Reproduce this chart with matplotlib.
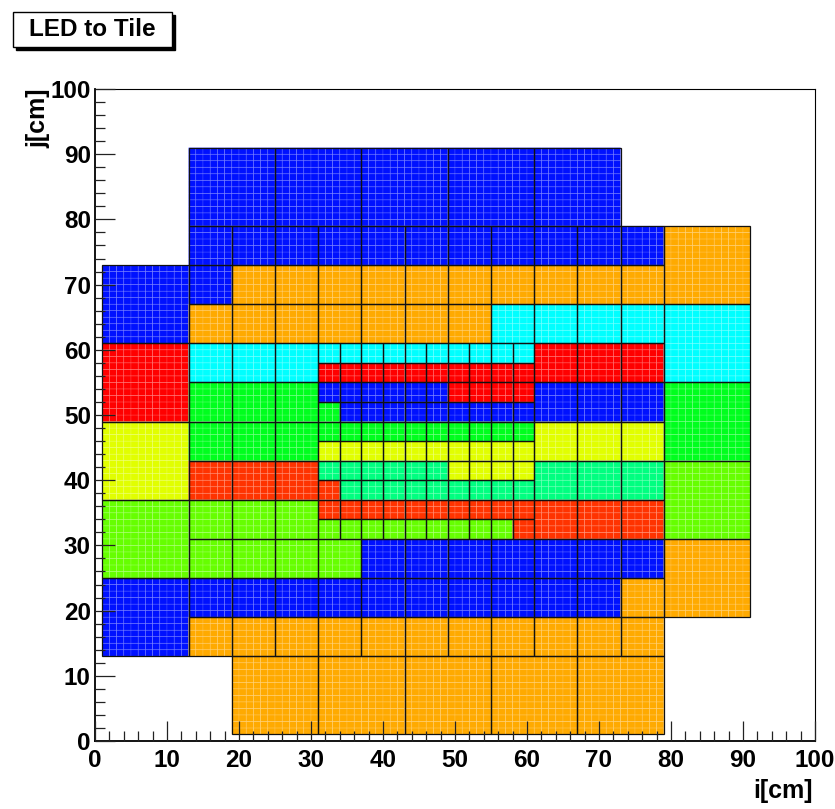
import numpy as np
import matplotlib
matplotlib.use('Agg')
import matplotlib.pyplot as plt
from matplotlib.colors import ListedColormap
from matplotlib.patches import Rectangle
from matplotlib.ticker import MultipleLocator

plt.rcParams['font.family'] = ['Liberation Sans', 'DejaVu Sans']
plt.rcParams['font.weight'] = 'bold'

# LED colour groups (ROOT palette look)
led_names = ['B', 'O', 'C', 'R', 'OR', 'G', 'Y', 'LG', 'SG']
led_colors = ['#0011ff', '#ffaa00', '#00ffff', '#ff0000', '#ff3300',
              '#00ff1e', '#e1ff00', '#66ff00', '#00ff80']

# tile blocks: i range, j range, tile size, LED group
blk_i0 = [13, 79, 13, 1, 13, 19, 13, 55, 79, 1, 13, 31, 31, 61, 79, 13, 31, 49, 31, 34, 61,
          1, 13, 31, 31, 61, 79, 13, 31, 49, 31, 34, 61, 1, 13, 31, 31, 58, 61, 13, 37, 79,
          1, 13, 73, 13, 19]
blk_i1 = [73, 91, 79, 13, 19, 79, 55, 79, 91, 13, 31, 61, 61, 79, 91, 31, 49, 61, 34, 61, 79,
          13, 31, 61, 61, 79, 91, 31, 49, 61, 34, 61, 79, 13, 31, 61, 58, 61, 79, 37, 79, 91,
          13, 73, 79, 79, 79]
blk_j0 = [79, 67, 73, 61, 67, 67, 61, 61, 55, 49, 55, 58, 55, 55, 43, 49, 52, 52, 49, 49, 49,
          37, 43, 46, 43, 43, 31, 37, 40, 40, 37, 37, 37, 25, 31, 34, 31, 31, 31, 25, 25, 19,
          13, 19, 19, 13, 1]
blk_j1 = [91, 79, 79, 73, 73, 73, 67, 67, 67, 61, 61, 61, 58, 61, 55, 55, 55, 55, 52, 52, 55,
          49, 49, 49, 46, 49, 43, 43, 43, 43, 40, 40, 43, 37, 37, 37, 34, 34, 37, 31, 31, 31,
          25, 25, 25, 19, 13]
blk_tw = [12, 12, 6, 12, 6, 6, 6, 6, 12, 12, 6, 3, 3, 6, 12, 6, 3, 3, 3, 3, 6,
          12, 6, 3, 3, 6, 12, 6, 3, 3, 3, 3, 6, 12, 6, 3, 3, 3, 6, 6, 6, 12,
          12, 6, 6, 6, 12]
blk_led = ['B', 'O', 'B', 'B', 'B', 'O', 'O', 'C', 'C', 'R', 'C', 'C', 'R', 'R', 'G', 'G', 'B', 'R', 'G', 'B', 'B',
           'Y', 'G', 'G', 'Y', 'Y', 'LG', 'OR', 'SG', 'Y', 'OR', 'SG', 'SG', 'LG', 'LG', 'OR', 'LG', 'OR', 'OR', 'LG', 'B', 'O',
           'B', 'B', 'O', 'O', 'O']

# fill 1 cm bins with the LED group index
z = np.full((100, 100), np.nan)
tiles = []
for i0, i1, j0, j1, tw, led in zip(blk_i0, blk_i1, blk_j0, blk_j1, blk_tw, blk_led):
    k = led_names.index(led)
    z[j0:j1, i0:i1] = k
    for ti in range(i0, i1, tw):
        for tj in range(j0, j1, tw):
            tiles.append((ti, tj, tw))

fig = plt.figure(figsize=(8.35, 8.09), dpi=100)
ax = fig.add_axes([95/835, (809-741)/809, 720/835, 652/809])

edges = np.arange(101)
ax.pcolor(edges, edges, np.ma.masked_invalid(z), cmap=ListedColormap(led_colors),
          vmin=-0.5, vmax=len(led_colors)-0.5,
          edgecolors=(1, 1, 1, 0.17), linewidth=0.5, zorder=1)

for ti, tj, tw in tiles:
    ax.add_patch(Rectangle((ti, tj), tw, tw, fill=False, edgecolor='#111111',
                           linewidth=0.9, zorder=2))

ax.set_xlim(0, 100)
ax.set_ylim(0, 100)
ax.xaxis.set_major_locator(MultipleLocator(10))
ax.xaxis.set_minor_locator(MultipleLocator(2))
ax.yaxis.set_major_locator(MultipleLocator(10))
ax.yaxis.set_minor_locator(MultipleLocator(2))
ax.set_axisbelow(False)
ax.tick_params(which='both', direction='in', top=False, right=False,
               width=0.9, color='#222222')
ax.tick_params(which='major', length=14.5, labelsize=17.5)
ax.tick_params(which='minor', length=7.2)
ax.tick_params(axis='x', pad=6)
ax.tick_params(axis='y', pad=3)
for lab in ax.get_xticklabels() + ax.get_yticklabels():
    lab.set_fontweight('bold')
for s in ['left', 'bottom']:
    ax.spines[s].set_linewidth(1.3)
for s in ['top', 'right']:
    ax.spines[s].set_linewidth(0.8)

fig.text(813/835, (809-779)/809, 'i[cm]', ha='right', va='top', fontsize=18, fontweight='bold')
fig.text(38/835, (809-88)/809, 'j[cm]', ha='center', va='top', rotation=90,
         fontsize=18, fontweight='bold')

# title box with shadow
bx, by, bw, bh = 13, 12, 159, 35
fig.patches.append(Rectangle(((bx+3)/835, (809-by-bh-3)/809), bw/835, bh/809,
                             transform=fig.transFigure, facecolor='black', edgecolor='black'))
fig.patches.append(Rectangle((bx/835, (809-by-bh)/809), bw/835, bh/809,
                             transform=fig.transFigure, facecolor='white', edgecolor='black',
                             linewidth=1))
fig.text((bx+bw/2)/835, (809-by-bh/2)/809, 'LED to Tile', ha='center', va='center',
         fontsize=17.5, fontweight='bold')

fig.savefig('out.png', dpi=100)
